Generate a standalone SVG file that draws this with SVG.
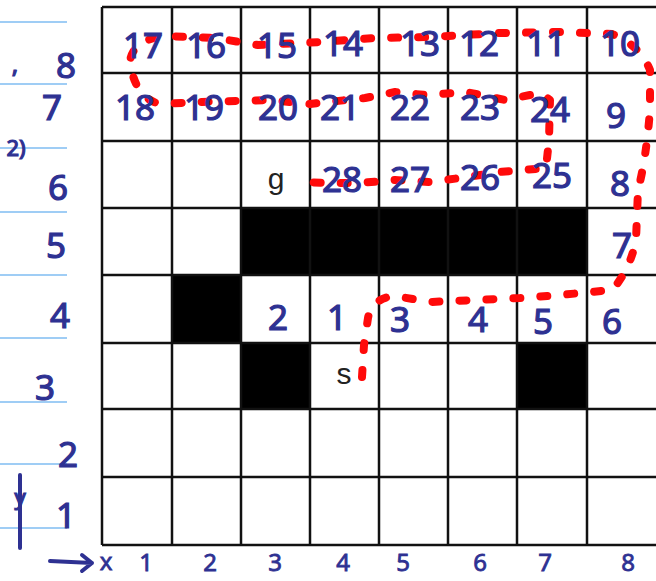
<svg xmlns="http://www.w3.org/2000/svg" width="656" height="581" viewBox="0 0 656 581">
<style>
.hw{font-family:"Noto Sans","DejaVu Sans",sans-serif;fill:#2e3192;stroke:#2e3192;stroke-width:1.2;font-size:35px;text-anchor:middle}
.ax{font-size:24px;stroke-width:0.8}
.ty{font-family:"Liberation Sans","Arial",sans-serif;fill:#222;font-size:30px;text-anchor:middle}
.grid{stroke:#111;stroke-width:2.5;fill:none}
.blk{fill:#000}
.note{stroke:#9fcdf5;stroke-width:2}
.path{fill:none;stroke:#ff0a0a;stroke-width:8;stroke-linecap:round;stroke-linejoin:round;stroke-dasharray:7 20}
</style>
<rect width="656" height="581" fill="#fff"/>
<g id="notebook-lines">
<line class="note" x1="0" y1="22" x2="67" y2="22"/>
<line class="note" x1="0" y1="84" x2="67" y2="84"/>
<line class="note" x1="0" y1="148" x2="67" y2="148"/>
<line class="note" x1="0" y1="212" x2="67" y2="212"/>
<line class="note" x1="0" y1="275" x2="67" y2="275"/>
<line class="note" x1="0" y1="338" x2="67" y2="338"/>
<line class="note" x1="0" y1="402" x2="67" y2="402"/>
<line class="note" x1="0" y1="464" x2="67" y2="464"/>
<line class="note" x1="0" y1="528" x2="67" y2="528"/>
</g>
<g id="obstacles">
<rect class="blk" x="241" y="208" width="346" height="67"/>
<rect class="blk" x="172" y="275" width="69" height="68"/>
<rect class="blk" x="241" y="343" width="69" height="66"/>
<rect class="blk" x="517" y="343" width="70" height="66"/>
</g>
<g id="grid">
<path class="grid" d="M102 7H658M102 73H658M102 141H658M102 208H658M102 275H658M102 343H658M102 409H658M102 477H658M102 545H658"/>
<path class="grid" d="M102 7V545M172 7V545M241 7V545M310 7V545M379 7V545M448 7V545M517 7V545M587 7V545"/>
</g>
<g id="connectors">
<path class="path" d="M362 377 L364 345 L368 318 Q372 298 395 296 L430 302 L520 298 L560 295 L612 290 Q630 270 636 240 L638 190 Q646 160 650 110 L650 70 Q640 45 612 34 L560 32 L500 33 L430 37 L375 38 L320 42 L258 45 L215 38 L165 36 Q132 40 130 62 Q135 98 160 104 L200 102 L270 100 L310 104 L365 98 L395 92 L425 95 L466 92 L505 100 L540 93 L550 100 L549 140 L546 168 L500 172 L460 178 L430 182 L395 180 L358 183 L330 183 L300 182"/>
</g>
<g id="cells">
<text class="hw" x="143" y="58">17</text>
<text class="hw" x="206" y="58">16</text>
<text class="hw" x="277" y="58">15</text>
<text class="hw" x="343" y="56">14</text>
<text class="hw" x="420" y="56">13</text>
<text class="hw" x="479" y="56">12</text>
<text class="hw" x="546" y="56">11</text>
<text class="hw" x="620" y="56">10</text>
<text class="hw" x="135" y="120">18</text>
<text class="hw" x="204" y="120">19</text>
<text class="hw" x="278" y="120">20</text>
<text class="hw" x="340" y="120">21</text>
<text class="hw" x="410" y="120">22</text>
<text class="hw" x="480" y="120">23</text>
<text class="hw" x="550" y="122">24</text>
<text class="hw" x="616" y="128">9</text>
<text class="ty" x="276" y="189">g</text>
<text class="hw" x="342" y="192">28</text>
<text class="hw" x="410" y="192">27</text>
<text class="hw" x="480" y="190">26</text>
<text class="hw" x="552" y="188">25</text>
<text class="hw" x="620" y="196">8</text>
<text class="hw" x="622" y="258">7</text>
<text class="hw" x="278" y="330">2</text>
<text class="hw" x="337" y="330">1</text>
<text class="hw" x="400" y="332">3</text>
<text class="hw" x="478" y="332">4</text>
<text class="hw" x="543" y="334">5</text>
<text class="hw" x="612" y="334">6</text>
<text class="ty" x="344" y="384">s</text>
</g>
<g id="axis-labels">
<text class="hw" x="15" y="73" style="font-size:24px">,</text>
<text class="hw" x="66" y="78">8</text>
<text class="hw" x="52" y="120">7</text>
<text class="hw" x="16" y="156" style="font-size:22px">2)</text>
<text class="hw" x="58" y="200">6</text>
<text class="hw" x="56" y="258">5</text>
<text class="hw" x="60" y="328">4</text>
<text class="hw" x="45" y="400">3</text>
<text class="hw" x="68" y="467">2</text>
<text class="hw" x="66" y="528">1</text>
<text class="hw" x="20" y="505" style="font-size:22px">y</text>
<path d="M20 475 L20 548" stroke="#2e3192" stroke-width="4" fill="none" stroke-linecap="round"/>
<path d="M50 561 L92 563 M82 555 L92 563 L82 571" stroke="#2e3192" stroke-width="4" fill="none" stroke-linecap="round" stroke-linejoin="round"/>
<text class="hw ax" x="106" y="570">x</text>
<text class="hw ax" x="146" y="571">1</text>
<text class="hw ax" x="210" y="571">2</text>
<text class="hw ax" x="275" y="571">3</text>
<text class="hw ax" x="343" y="571">4</text>
<text class="hw ax" x="403" y="571">5</text>
<text class="hw ax" x="480" y="571">6</text>
<text class="hw ax" x="545" y="571">7</text>
<text class="hw ax" x="628" y="571">8</text>
</g>
</svg>
